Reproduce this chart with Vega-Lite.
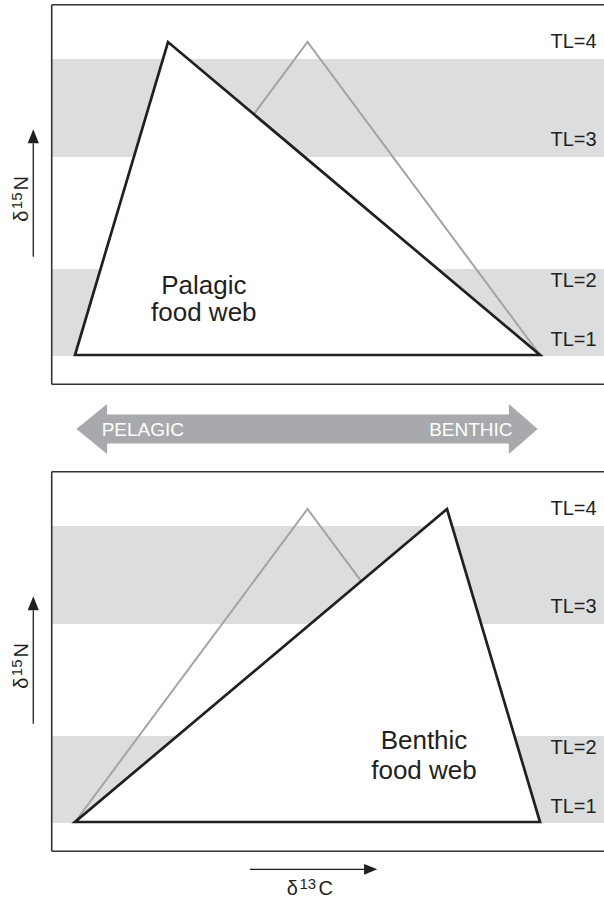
{
  "$schema": "https://vega.github.io/schema/vega-lite/v6.json",
  "padding": 0,
  "spacing": 0,
  "background": "white",
  "config": {"view": {"stroke": null}, "font": "Liberation Sans"},
  "vconcat": [
    {
      "width": 604,
      "height": 395,
      "layer": [
        {
          "data": {"values": [
            {"c": -5.01, "c2": 113.76, "n": 0.99, "n2": 1.824},
            {"c": -5.01, "c2": 113.76, "n": 2.898, "n2": 3.837}
          ]},
          "mark": {"type": "rect", "color": "#dcdddf"},
          "encoding": {
            "x": {"field": "c", "type": "quantitative", "scale": {"domain": [-16.13, 113.76], "nice": false, "zero": false}, "axis": null},
            "x2": {"field": "c2"},
            "y": {"field": "n", "type": "quantitative", "scale": {"domain": [0.6166, 4.4027], "nice": false, "zero": false}, "axis": null},
            "y2": {"field": "n2"}
          }
        },
        {
          "data": {"values": [
            {"c": -5.01, "c2": 113.76, "n": 4.3576, "n2": 4.3576},
            {"c": -5.01, "c2": 113.76, "n": 0.7192, "n2": 0.7192},
            {"c": -5.01, "c2": -5.01, "n": 0.7192, "n2": 4.3576}
          ]},
          "mark": {"type": "rule", "color": "#333333", "strokeWidth": 1.6},
          "encoding": {
            "x": {"field": "c", "type": "quantitative"},
            "x2": {"field": "c2"},
            "y": {"field": "n", "type": "quantitative"},
            "y2": {"field": "n2"}
          }
        },
        {
          "data": {"values": [
            {"c": 0, "n": 1, "n2": 1},
            {"c": 20, "n": 4, "n2": 1},
            {"c": 100, "n": 1, "n2": 1}
          ]},
          "mark": {"type": "area", "color": "white", "opacity": 1},
          "encoding": {
            "x": {"field": "c", "type": "quantitative"},
            "y": {"field": "n", "type": "quantitative"},
            "y2": {"field": "n2"}
          }
        },
        {
          "data": {"values": [
            {"c": 38.46, "n": 3.308, "o": 1},
            {"c": 50, "n": 4, "o": 2},
            {"c": 100, "n": 1, "o": 3}
          ]},
          "mark": {"type": "line", "color": "#a3a3a3", "strokeWidth": 2, "strokeJoin": "miter"},
          "encoding": {
            "x": {"field": "c", "type": "quantitative"},
            "y": {"field": "n", "type": "quantitative"},
            "order": {"field": "o", "type": "quantitative"}
          }
        },
        {
          "data": {"values": [
            {"c": 0, "n": 1, "o": 1},
            {"c": 20, "n": 4, "o": 2},
            {"c": 100, "n": 1, "o": 3},
            {"c": 0, "n": 1, "o": 4},
            {"c": 20, "n": 4, "o": 5}
          ]},
          "mark": {"type": "line", "color": "#231f20", "strokeWidth": 2.7, "strokeJoin": "miter"},
          "encoding": {
            "x": {"field": "c", "type": "quantitative"},
            "y": {"field": "n", "type": "quantitative"},
            "order": {"field": "o", "type": "quantitative"}
          }
        },
        {
          "data": {"values": [
            {"c": 102.26, "n": 4.002, "t": "TL=4"},
            {"c": 102.26, "n": 3.061, "t": "TL=3"},
            {"c": 102.26, "n": 1.709, "t": "TL=2"},
            {"c": 102.26, "n": 1.144, "t": "TL=1"}
          ]},
          "mark": {"type": "text", "align": "left", "baseline": "middle", "fontSize": 20, "color": "#231f20"},
          "encoding": {
            "x": {"field": "c", "type": "quantitative"},
            "y": {"field": "n", "type": "quantitative"},
            "text": {"field": "t"}
          }
        },
        {
          "data": {"values": [
            {"c": 27.7, "n": 1.661, "t": "Palagic"},
            {"c": 27.7, "n": 1.403, "t": "food web"}
          ]},
          "mark": {"type": "text", "align": "center", "baseline": "middle", "fontSize": 26, "color": "#231f20"},
          "encoding": {
            "x": {"field": "c", "type": "quantitative"},
            "y": {"field": "n", "type": "quantitative"},
            "text": {"field": "t"}
          }
        },
        {
          "data": {"values": [
            {"c": -8.97, "c2": -8.97, "n": 1.942, "n2": 3.03}
          ]},
          "mark": {"type": "rule", "color": "#231f20", "strokeWidth": 1.3},
          "encoding": {
            "x": {"field": "c", "type": "quantitative"},
            "x2": {"field": "c2"},
            "y": {"field": "n", "type": "quantitative"},
            "y2": {"field": "n2"}
          }
        },
        {
          "data": {"values": [
            {"c": -8.97, "n": 3.096}
          ]},
          "mark": {"type": "point", "shape": "M0,-1L0.8,1L-0.8,1Z", "size": 196, "filled": true, "color": "#231f20", "opacity": 1},
          "encoding": {
            "x": {"field": "c", "type": "quantitative"},
            "y": {"field": "n", "type": "quantitative"}
          }
        },
        {
          "data": {"values": [
            {"c": -10.04, "n": 2.2777, "t": "δ", "s": 20},
            {"c": -11.44, "n": 2.3975, "t": "15", "s": 15},
            {"c": -10.04, "n": 2.5767, "t": "N", "s": 20}
          ]},
          "mark": {"type": "text", "align": "left", "baseline": "alphabetic", "angle": 270, "color": "#231f20"},
          "encoding": {
            "x": {"field": "c", "type": "quantitative"},
            "y": {"field": "n", "type": "quantitative"},
            "text": {"field": "t"},
            "size": {"field": "s", "type": "quantitative", "scale": null}
          }
        }
      ]
    },
    {
      "width": 604,
      "height": 65,
      "layer": [
        {
          "data": {"values": [
            {"c": 6.8, "c2": 93.4, "w": -0.58, "w2": 0.58}
          ]},
          "mark": {"type": "rect", "color": "#a7a9ac"},
          "encoding": {
            "x": {"field": "c", "type": "quantitative", "scale": {"domain": [-16.13, 113.76], "nice": false, "zero": false}, "axis": null},
            "x2": {"field": "c2"},
            "y": {"field": "w", "type": "quantitative", "scale": {"domain": [-1.24, 1.36], "nice": false, "zero": false}, "axis": null},
            "y2": {"field": "w2"}
          }
        },
        {
          "data": {"values": [
            {"c": 0.3, "w": 0, "w2": 0, "h": "left"},
            {"c": 6.9, "w": 1, "w2": -1, "h": "left"},
            {"c": 93.3, "w": 1, "w2": -1, "h": "right"},
            {"c": 99.5, "w": 0, "w2": 0, "h": "right"}
          ]},
          "mark": {"type": "area", "color": "#a7a9ac", "opacity": 1},
          "encoding": {
            "x": {"field": "c", "type": "quantitative"},
            "y": {"field": "w", "type": "quantitative"},
            "y2": {"field": "w2"},
            "detail": {"field": "h", "type": "nominal"}
          }
        },
        {
          "data": {"values": [
            {"c": 5.74, "w": -0.03, "t": "PELAGIC"}
          ]},
          "mark": {"type": "text", "align": "left", "baseline": "middle", "fontSize": 19, "color": "white"},
          "encoding": {
            "x": {"field": "c", "type": "quantitative"},
            "y": {"field": "w", "type": "quantitative"},
            "text": {"field": "t"}
          }
        },
        {
          "data": {"values": [
            {"c": 94.1, "w": -0.03, "t": "BENTHIC"}
          ]},
          "mark": {"type": "text", "align": "right", "baseline": "middle", "fontSize": 19, "color": "white"},
          "encoding": {
            "x": {"field": "c", "type": "quantitative"},
            "y": {"field": "w", "type": "quantitative"},
            "text": {"field": "t"}
          }
        }
      ]
    },
    {
      "width": 604,
      "height": 441,
      "layer": [
        {
          "data": {"values": [
            {"c": -5.01, "c2": 113.76, "n": 0.99, "n2": 1.824},
            {"c": -5.01, "c2": 113.76, "n": 2.898, "n2": 3.837}
          ]},
          "mark": {"type": "rect", "color": "#dcdddf"},
          "encoding": {
            "x": {"field": "c", "type": "quantitative", "scale": {"domain": [-16.13, 113.76], "nice": false, "zero": false}, "axis": null},
            "x2": {"field": "c2"},
            "y": {"field": "n", "type": "quantitative", "scale": {"domain": [0.2428, 4.4698], "nice": false, "zero": false}, "axis": null},
            "y2": {"field": "n2"}
          }
        },
        {
          "data": {"values": [
            {"c": -5.01, "c2": 113.76, "n": 4.3576, "n2": 4.3576},
            {"c": -5.01, "c2": 113.76, "n": 0.7192, "n2": 0.7192},
            {"c": -5.01, "c2": -5.01, "n": 0.7192, "n2": 4.3576}
          ]},
          "mark": {"type": "rule", "color": "#333333", "strokeWidth": 1.6},
          "encoding": {
            "x": {"field": "c", "type": "quantitative"},
            "x2": {"field": "c2"},
            "y": {"field": "n", "type": "quantitative"},
            "y2": {"field": "n2"}
          }
        },
        {
          "data": {"values": [
            {"c": 0, "n": 1, "n2": 1},
            {"c": 80, "n": 4, "n2": 1},
            {"c": 100, "n": 1, "n2": 1}
          ]},
          "mark": {"type": "area", "color": "white", "opacity": 1},
          "encoding": {
            "x": {"field": "c", "type": "quantitative"},
            "y": {"field": "n", "type": "quantitative"},
            "y2": {"field": "n2"}
          }
        },
        {
          "data": {"values": [
            {"c": 0, "n": 1, "o": 1},
            {"c": 50, "n": 4, "o": 2},
            {"c": 61.54, "n": 3.308, "o": 3}
          ]},
          "mark": {"type": "line", "color": "#a3a3a3", "strokeWidth": 2, "strokeJoin": "miter"},
          "encoding": {
            "x": {"field": "c", "type": "quantitative"},
            "y": {"field": "n", "type": "quantitative"},
            "order": {"field": "o", "type": "quantitative"}
          }
        },
        {
          "data": {"values": [
            {"c": 0, "n": 1, "o": 1},
            {"c": 80, "n": 4, "o": 2},
            {"c": 100, "n": 1, "o": 3},
            {"c": 0, "n": 1, "o": 4},
            {"c": 80, "n": 4, "o": 5}
          ]},
          "mark": {"type": "line", "color": "#231f20", "strokeWidth": 2.7, "strokeJoin": "miter"},
          "encoding": {
            "x": {"field": "c", "type": "quantitative"},
            "y": {"field": "n", "type": "quantitative"},
            "order": {"field": "o", "type": "quantitative"}
          }
        },
        {
          "data": {"values": [
            {"c": 102.26, "n": 4.002, "t": "TL=4"},
            {"c": 102.26, "n": 3.061, "t": "TL=3"},
            {"c": 102.26, "n": 1.709, "t": "TL=2"},
            {"c": 102.26, "n": 1.144, "t": "TL=1"}
          ]},
          "mark": {"type": "text", "align": "left", "baseline": "middle", "fontSize": 20, "color": "#231f20"},
          "encoding": {
            "x": {"field": "c", "type": "quantitative"},
            "y": {"field": "n", "type": "quantitative"},
            "text": {"field": "t"}
          }
        },
        {
          "data": {"values": [
            {"c": 75.05, "n": 1.776, "t": "Benthic"},
            {"c": 75.05, "n": 1.489, "t": "food web"}
          ]},
          "mark": {"type": "text", "align": "center", "baseline": "middle", "fontSize": 26, "color": "#231f20"},
          "encoding": {
            "x": {"field": "c", "type": "quantitative"},
            "y": {"field": "n", "type": "quantitative"},
            "text": {"field": "t"}
          }
        },
        {
          "data": {"values": [
            {"c": -8.97, "c2": -8.97, "n": 1.942, "n2": 3.03},
            {"c": 37.63, "c2": 62.5, "n": 0.5466, "n2": 0.5466}
          ]},
          "mark": {"type": "rule", "color": "#231f20", "strokeWidth": 1.3},
          "encoding": {
            "x": {"field": "c", "type": "quantitative"},
            "x2": {"field": "c2"},
            "y": {"field": "n", "type": "quantitative"},
            "y2": {"field": "n2"}
          }
        },
        {
          "data": {"values": [
            {"c": -8.97, "n": 3.096}
          ]},
          "mark": {"type": "point", "shape": "M0,-1L0.8,1L-0.8,1Z", "size": 196, "filled": true, "color": "#231f20", "opacity": 1},
          "encoding": {
            "x": {"field": "c", "type": "quantitative"},
            "y": {"field": "n", "type": "quantitative"}
          }
        },
        {
          "data": {"values": [
            {"c": 63.59, "n": 0.5466}
          ]},
          "mark": {"type": "point", "shape": "M1,0L-1,-0.8L-1,0.8Z", "size": 177, "filled": true, "color": "#231f20", "opacity": 1},
          "encoding": {
            "x": {"field": "c", "type": "quantitative"},
            "y": {"field": "n", "type": "quantitative"}
          }
        },
        {
          "data": {"values": [
            {"c": -10.04, "n": 2.2777, "t": "δ", "s": 20},
            {"c": -11.44, "n": 2.3975, "t": "15", "s": 15},
            {"c": -10.04, "n": 2.5767, "t": "N", "s": 20}
          ]},
          "mark": {"type": "text", "align": "left", "baseline": "alphabetic", "angle": 270, "color": "#231f20"},
          "encoding": {
            "x": {"field": "c", "type": "quantitative"},
            "y": {"field": "n", "type": "quantitative"},
            "text": {"field": "t"},
            "size": {"field": "s", "type": "quantitative", "scale": null}
          }
        },
        {
          "data": {"values": [
            {"c": 45.53, "n": 0.3003, "t": "δ", "s": 20},
            {"c": 48.28, "n": 0.3626, "t": "13", "s": 15},
            {"c": 52.37, "n": 0.3003, "t": "C", "s": 20}
          ]},
          "mark": {"type": "text", "align": "left", "baseline": "alphabetic", "color": "#231f20"},
          "encoding": {
            "x": {"field": "c", "type": "quantitative"},
            "y": {"field": "n", "type": "quantitative"},
            "text": {"field": "t"},
            "size": {"field": "s", "type": "quantitative", "scale": null}
          }
        }
      ]
    }
  ]
}
